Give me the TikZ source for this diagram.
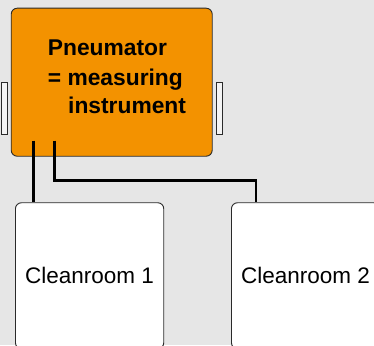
\documentclass[tikz,border=0pt]{standalone}
\usepackage{fontspec}
\setmainfont{Liberation Sans}
\definecolor{bg}{HTML}{E6E6E6}
\definecolor{orangefill}{HTML}{F39200}
\definecolor{edge}{HTML}{2A2A2A}
\definecolor{tabfill}{HTML}{F4F4F4}
\begin{document}
\begin{tikzpicture}[x=1pt,y=-1pt,
  box/.style={draw=edge, line width=0.9pt, rounded corners=6pt, inner sep=0pt},
  tabbox/.style={draw=edge, fill=tabfill, line width=0.9pt, inner sep=0pt, minimum width=6pt, minimum height=52pt},
  wire/.style={line width=2.5pt, black},
  pntext/.style={anchor=base west, inner sep=0pt, font=\bfseries\fontsize{22.8}{27}\selectfont},
  roomtext/.style={font=\fontsize{22.5}{26}\selectfont}]
\useasboundingbox (0,0) rectangle (374,345);
\clip (0,0) rectangle (374,345);
\fill[bg] (0,0) rectangle (374,345);
% side tabs
\node[tabbox] (tl) at (4.2,108) {};
\node[tabbox] (tr) at (219.1,108) {};
% pneumator box
\node[box, fill=orangefill, minimum width=201pt, minimum height=148pt] (pn) at (111.7,82.2) {};
\node[pntext] (pn1) at (47.7,55.7) {Pneumator};
\node[pntext] (pn2) at (47.7,85) {= measuring};
\node[pntext] (pn3) at (68,113.3) {instrument};
% cleanrooms
\node[box, fill=white, minimum width=148.3pt, minimum height=146pt, anchor=north west, roomtext] (c1) at (15,202.3) {Cleanroom 1};
\node[box, fill=white, minimum width=148.3pt, minimum height=146pt, anchor=north west, roomtext] (c2) at (231,202.3) {Cleanroom 2};
% connectors
\coordinate (w1) at (33.3,140.7);
\coordinate (w2) at (54.7,140.7);
\coordinate (k) at (256,180.3);
\draw[wire] (w1) -- (w1 |- c1.north);
\draw[wire] (w2) |- (k) -- (k |- c2.north);
\end{tikzpicture}
\end{document}
